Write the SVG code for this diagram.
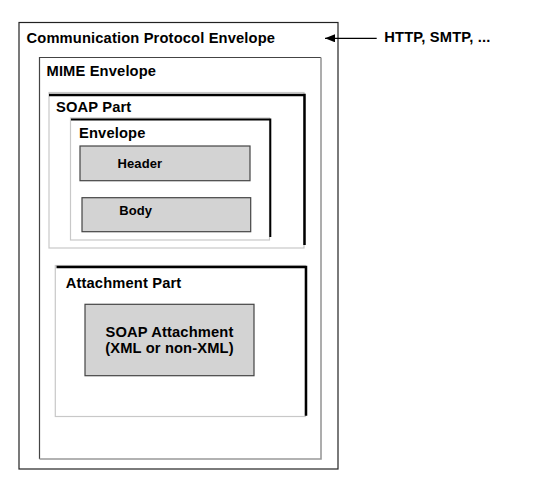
<svg xmlns="http://www.w3.org/2000/svg" width="560" height="480" viewBox="0 0 560 480">
<defs>
<style>
text{font-family:"Liberation Sans",Arial,sans-serif;font-weight:bold;fill:#000}
.big{font-size:14.7px;letter-spacing:0.15px}
.small{font-size:13px;letter-spacing:0.1px}
.gr{fill:none;stroke:#c8c8c8;stroke-width:1.2}
.blk{fill:none;stroke:#000;stroke-width:2.5}
.box{fill:#d3d3d3;stroke:#444;stroke-width:1.2}
</style>
<marker id="ah" viewBox="0 0 10 8" refX="10" refY="4" markerWidth="10" markerHeight="8" markerUnits="userSpaceOnUse" orient="auto">
<path d="M0,0 L10,4 L0,8 z" fill="#000"/>
</marker>
</defs>
<rect width="560" height="480" fill="#fff"/>
<g id="comm">
<rect x="19" y="22.5" width="319" height="446.5" fill="none" stroke="#222" stroke-width="1.2"/>
<text class="big" x="26.5" y="43.3">Communication Protocol Envelope</text>
</g>
<g id="mime">
<polyline points="39.5,459 39.5,57.5 321,57.5" fill="none" stroke="#444" stroke-width="1.2"/>
<polyline points="321,57.5 321,459 39.5,459" fill="none" stroke="#999" stroke-width="1.6"/>
<text class="big" x="46.5" y="76">MIME Envelope</text>
</g>
<g id="soappart">
<rect class="gr" x="49" y="92.5" width="255" height="155.5"/>
<polyline class="blk" points="49,95 304.5,95 304.5,245"/>
<text class="big" x="56" y="111.7">SOAP Part</text>
</g>
<g id="envelope">
<rect class="gr" x="70.5" y="118" width="199" height="122"/>
<polyline class="blk" points="71,119.5 270.3,119.5 270.3,237" style="stroke-width:2"/>
<text class="big" x="79" y="137.7">Envelope</text>
</g>
<g id="header">
<rect class="box" x="80" y="146" width="170" height="34.7"/>
<text class="small" x="117.5" y="167.7">Header</text>
</g>
<g id="body">
<rect class="box" x="82" y="197.7" width="168.7" height="34"/>
<text class="small" x="119.3" y="214.7">Body</text>
</g>
<g id="attachpart">
<rect class="gr" x="55.3" y="265.5" width="250" height="151"/>
<polyline class="blk" points="56.5,267 306,267 306,415.7"/>
<text class="big" x="65.7" y="287.7">Attachment Part</text>
</g>
<g id="soapattach">
<rect class="box" x="85" y="304.3" width="169" height="71.4"/>
<text class="big" x="169.5" y="337.3" text-anchor="middle">SOAP Attachment</text>
<text class="big" x="169.5" y="352.8" text-anchor="middle">(XML or non-XML)</text>
</g>
<g id="protocols">
<text class="big" x="384.3" y="41.7">HTTP, SMTP, ...</text>
</g>
<g id="connectors">
<line x1="376.7" y1="38.3" x2="325" y2="38.3" stroke="#000" stroke-width="1.2" marker-end="url(#ah)"/>
</g>
</svg>
